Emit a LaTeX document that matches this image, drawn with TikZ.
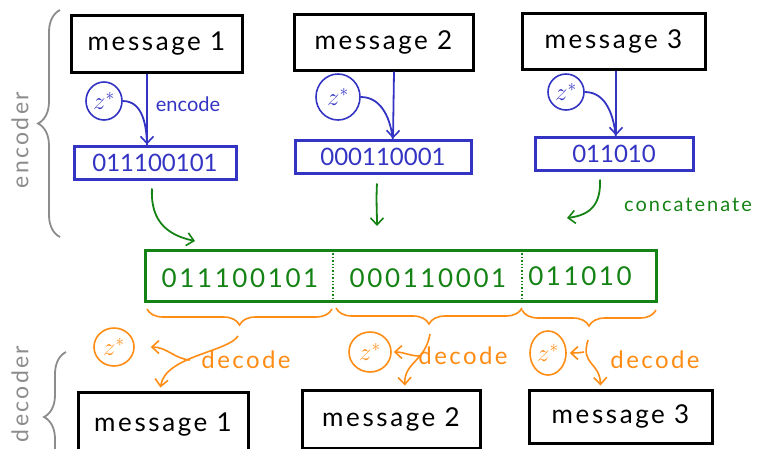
\documentclass[tikz,border=0pt]{standalone}
\usepackage{fontspec}
\setmainfont{Lato}
\newfontfamily\handsp[LetterSpace=10]{Lato}
\newfontfamily\handpl{Lato}
\usetikzlibrary{decorations.pathreplacing,arrows.meta,shapes.geometric}
\definecolor{hblue}{RGB}{52,52,196}
\definecolor{hgreen}{RGB}{20,130,20}
\definecolor{horange}{RGB}{255,140,20}
\definecolor{hgray}{RGB}{140,140,140}
\begin{document}
\begin{tikzpicture}[x=1pt,y=-1pt,
  tip/.tip={Straight Barb[length=7pt,width=13pt,line width=1.6pt]},
  msg/.style={draw=black,line width=3pt,inner sep=0pt,font=\handsp\fontsize{26}{30}\selectfont},
  code/.style={draw=hblue,line width=3pt,text=hblue,inner sep=0pt,font=\handpl\fontsize{24}{28}\selectfont},
  zb/.style={ellipse,draw=hblue,line width=1.6pt,text=hblue,inner sep=0pt,font=\fontsize{25}{28}\selectfont},
  zo/.style={ellipse,draw=horange,line width=1.6pt,text=horange,inner sep=0pt,font=\fontsize{25}{28}\selectfont},
  barr/.style={draw=hblue,line width=1.8pt,-tip},
  bline/.style={draw=hblue,line width=1.8pt},
  garr/.style={draw=hgreen,line width=1.8pt,-tip},
  oarr/.style={draw=horange,line width=1.6pt,-tip},
  obrace/.style={draw=horange,line width=1.6pt,decorate,decoration={brace,amplitude=16pt}},
  gbrace/.style={draw=hgray,line width=1.8pt,decorate,decoration={brace,amplitude=22pt}},
  glbl/.style={text=hgray,rotate=90,font=\handsp\fontsize{23}{28}\selectfont},
  gtxt/.style={text=hgreen,font=\handsp\fontsize{26}{30}\selectfont},
  lbl/.style={font=\handsp\fontsize{24}{28}\selectfont},
]
\useasboundingbox (0,0) rectangle (767,448);

% encoder side
\node[msg,minimum width=171pt,minimum height=57pt] (m1) at (156.5,43.5) {message 1};
\node[msg,minimum width=179pt,minimum height=56pt] (m2) at (383.5,42) {message 2};
\node[msg,minimum width=183pt,minimum height=56pt] (m3) at (613.5,41) {message 3};

\node[code,minimum width=162pt,minimum height=33pt] (b1) at (155,162.5) {011100101};
\node[code,minimum width=176pt,minimum height=33pt] (b2) at (383,156.5) {000110001};
\node[code,minimum width=158pt,minimum height=33pt] (b3) at (614,153.5) {011010};

\node[zb,minimum width=36pt,minimum height=38pt] (z1) at (104,101) {$z^*$};
\node[zb,minimum width=44pt,minimum height=46pt] (z2) at (338,97) {$z^*$};
\node[zb,minimum width=36pt,minimum height=36pt] (z3) at (566,92) {$z^*$};

\node[text=hblue,font=\handpl\fontsize{20}{24}\selectfont] (enc) at (188,104) {encode};

\coordinate (t1) at ([xshift=-8pt]b1.north);
\coordinate (t2) at ([xshift=10pt]b2.north);
\coordinate (t3) at ([xshift=2pt]b3.north);
\draw[barr] ([xshift=-9.5pt]m1.south) -- (t1);
\draw[barr] ([xshift=10.5pt]m2.south) -- (t2);
\draw[barr] ([xshift=2.5pt]m3.south) -- (t3);
\draw[bline] (z1.east) to[out=0,in=90] ([yshift=-3pt]t1);
\draw[bline] (z2.east) to[out=0,in=95] ([yshift=-3pt]t2);
\draw[bline] (z3.east) to[out=0,in=95] ([yshift=-3pt]t3);

% concatenation
\node[draw=hgreen,line width=3pt,minimum width=511pt,minimum height=51pt,inner sep=0pt] (G) at (400.5,275.5) {};
\coordinate (d1) at (333,250);
\coordinate (d2) at (522,250);
\draw[hgreen,line width=1.4pt,dotted] (d1) -- (d1 |- G.south);
\draw[hgreen,line width=1.4pt,dotted] (d2) -- (d2 |- G.south);
\node[gtxt] (c1) at (240,278) {011100101};
\node[gtxt] (c2) at (428,278) {000110001};
\node[gtxt] (c3) at (580,276) {011010};

\coordinate (ge1) at (195,241);
\coordinate (ge2) at (377,226);
\coordinate (ge3) at (567,218);
\draw[garr] ([shift={(-3,8)}]b1.south) .. controls (150,225) and (172,236) .. (ge1);
\draw[garr] ([shift={(-6,9)}]b2.south) .. controls (376,200) and (377,212) .. (ge2);
\draw[garr] ([shift={(-14,8)}]b3.south) .. controls (601,205) and (590,215) .. (ge3);
\node[text=hgreen,font=\handsp\fontsize{20}{24}\selectfont] (cat) at (688,205) {concatenate};

% decoder side
\draw[obrace] (332,309) -- (147,309);
\draw[obrace] (522,308) -- (336,308);
\draw[obrace] (656,310) -- (522,310);
\coordinate (ob1) at (238,336);
\coordinate (ob2) at (430,334);
\coordinate (ob3) at (588,340);

\node[zo,minimum width=40pt,minimum height=38pt] (oz1) at (114,347) {$z^*$};
\node[zo,minimum width=42pt,minimum height=40pt] (oz2) at (370,352) {$z^*$};
\node[zo,minimum width=36pt,minimum height=44pt] (oz3) at (548,353) {$z^*$};

\node[msg,minimum width=170pt,minimum height=66pt] (bm1) at (163,425) {message 1};
\node[msg,minimum width=178pt,minimum height=58pt] (bm2) at (391,419) {message 2};
\node[msg,minimum width=183pt,minimum height=53pt] (bm3) at (620.5,416.5) {message 3};

\node[lbl,text=horange] (dl1) at (246,360) {decode};
\node[lbl,text=horange] (dl2) at (463,356) {decode};
\node[lbl,text=horange] (dl3) at (655,360) {decode};

\coordinate (br1) at (190,360);
\coordinate (br2) at (420,356);
\coordinate (br3) at (584,352);
\draw[oarr,shorten >=3pt] (ob1) .. controls (228,352) and (165,356) .. ([xshift=-3pt]bm1.north);
\draw[oarr] (br1) to[out=175,in=0] ([xshift=16pt]oz1.east);
\draw[oarr,shorten >=3pt] (ob2) .. controls (425,362) and (404,362) .. ([xshift=14pt]bm2.north);
\draw[oarr] (br2) to[out=180,in=0] ([xshift=2pt]oz2.east);
\draw[oarr,shorten >=3pt] (ob3) .. controls (580,365) and (600,362) .. ([xshift=-20pt]bm3.north);
\draw[oarr] (br3) to[out=190,in=0] ([xshift=3pt]oz3.east);

% grey braces
\draw[gbrace] (60,237) -- (60,10);
\draw[gbrace] (66,482) -- (66,352);
\node[glbl] (encl) at (20,140) {encoder};
\node[glbl] (decl) at (20,394) {decoder};
\end{tikzpicture}
\end{document}
